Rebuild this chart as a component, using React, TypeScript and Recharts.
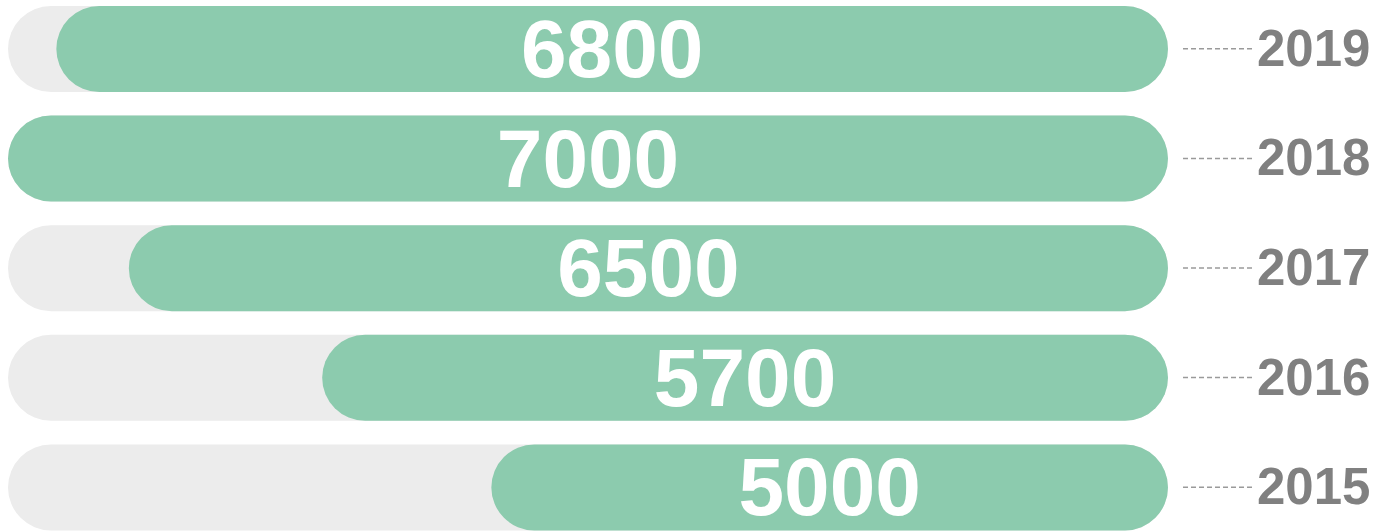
import { Bar, BarChart, LabelList, XAxis, YAxis } from 'recharts';

const years = ['2019', '2018', '2017', '2016', '2015'];
const amounts = [6800, 7000, 6500, 5700, 5000];

const data = years.map((year, i) => ({ year, amount: amounts[i] }));

const YearTick = (props: any) => {
  const { x, y, payload } = props;
  return (
    <g>
      <line x1={x + 7} x2={x + 77} y1={y} y2={y} stroke="#9a9a9a" strokeWidth={1.5} strokeDasharray="5 3" />
      <text
        x={x + 81}
        y={y}
        dy={17}
        fill="#808080"
        fontSize={51}
        fontWeight="bold"
        fontFamily="'Liberation Sans', Arial, sans-serif"
      >
        {payload.value}
      </text>
    </g>
  );
};

const AmountLabel = (props: any) => {
  const { x, y, width, height, value } = props;
  return (
    <text
      x={x + width / 2}
      y={y + height / 2}
      dy={28}
      textAnchor="middle"
      fill="#ffffff"
      fontSize={82}
      fontWeight="bold"
      fontFamily="'Liberation Sans', Arial, sans-serif"
    >
      {value}
    </text>
  );
};

export default function App() {
  return (
    <div style={{ position: 'absolute', left: 0, top: 0, width: 1388, height: 531, background: '#fff' }}>
      <BarChart
        width={1388}
        height={531}
        data={data}
        layout="vertical"
        margin={{ top: -6, right: 0, left: 8, bottom: -11 }}
        barCategoryGap={0}
      >
        <XAxis type="number" domain={[2200, 7000]} reversed hide />
        <YAxis
          type="category"
          dataKey="year"
          orientation="right"
          width={220}
          axisLine={false}
          tickLine={false}
          tick={<YearTick />}
        />
        <Bar
          dataKey="amount"
          fill="#8ccbae"
          barSize={86}
          radius={43}
          background={{ fill: '#ececec', radius: 43 } as any}
          isAnimationActive={false}
        >
          <LabelList dataKey="amount" content={<AmountLabel />} />
        </Bar>
      </BarChart>
    </div>
  );
}
